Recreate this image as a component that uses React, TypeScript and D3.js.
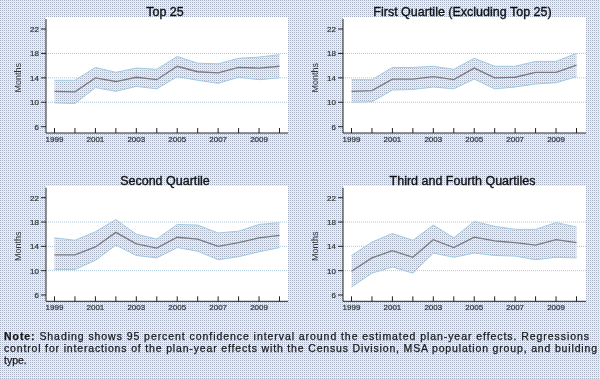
import React, { useEffect } from "react";
import * as d3 from "d3";

const years = [1999, 2000, 2001, 2002, 2003, 2004, 2005, 2006, 2007, 2008, 2009, 2010];
const yTicks = [6, 10, 14, 18, 22];
const gridTicks = [10, 14, 18];
const xLabelYears = [1999, 2001, 2003, 2005, 2007, 2009];

const titles = ["Top 25", "First Quartile (Excluding Top 25)", "Second Quartile", "Third and Fourth Quartiles"];

const top25Mid = [11.8, 11.7, 14.0, 13.4, 14.1, 13.7, 15.9, 15.0, 14.8, 15.7, 15.6, 15.9];
const top25Hi = [13.6, 13.6, 15.7, 14.9, 15.6, 15.4, 17.5, 16.4, 16.3, 17.2, 17.4, 17.8];
const top25Lo = [9.9, 9.8, 12.4, 11.8, 12.6, 12.2, 14.2, 13.6, 13.1, 14.1, 13.7, 14.0];

const q1Mid = [11.8, 11.9, 13.8, 13.8, 14.2, 13.7, 15.6, 14.0, 14.1, 14.9, 14.9, 16.1];
const q1Hi = [13.7, 13.7, 15.7, 15.7, 15.9, 15.4, 17.2, 15.9, 15.9, 16.7, 16.7, 18.0];
const q1Lo = [10.0, 10.1, 12.0, 12.1, 12.5, 12.2, 13.8, 12.2, 12.5, 13.0, 13.2, 14.2];

const q2Mid = [12.6, 12.6, 13.9, 16.3, 14.4, 13.7, 15.5, 15.2, 14.0, 14.6, 15.4, 15.8];
const q2Hi = [15.4, 15.0, 16.4, 18.4, 16.0, 15.2, 17.6, 17.5, 16.2, 16.5, 17.6, 17.9];
const q2Lo = [10.2, 10.2, 11.7, 14.2, 12.5, 12.1, 13.8, 13.2, 11.8, 12.3, 13.1, 13.8];

const q34Mid = [9.9, 12.1, 13.3, 12.2, 15.1, 13.8, 15.5, 14.9, 14.6, 14.2, 15.1, 14.6];
const q34Hi = [12.5, 14.7, 16.1, 15.0, 17.5, 15.4, 18.1, 17.3, 16.8, 16.8, 17.9, 17.2];
const q34Lo = [7.3, 9.6, 10.6, 9.6, 12.9, 12.2, 12.9, 12.5, 12.4, 11.8, 12.2, 12.1];

const panelMid = [top25Mid, q1Mid, q2Mid, q34Mid];
const panelHi = [top25Hi, q1Hi, q2Hi, q34Hi];
const panelLo = [top25Lo, q1Lo, q2Lo, q34Lo];

const noteLine1 = "Shading shows 95 percent confidence interval around the estimated plan-year effects.  Regressions";
const noteLine2 = "control for interactions of the plan-year effects with the Census Division, MSA population group, and building";
const noteLine3 = "type.";

const FONT = "'Liberation Sans', Arial, sans-serif";

function Panel({ idx, axisX, rightX, top22, bottom6 }: { idx: number; axisX: number; rightX: number; top22: number; bottom6: number }) {
  const x = d3.scaleLinear().domain([1999, 2010]).range([axisX + 8.5, axisX + 233.5]);
  const y = d3.scaleLinear().domain([6, 22]).range([bottom6, top22]);
  const axisY = bottom6 + 6.3;
  const whiteTop = top22 - 12;
  const mid = panelMid[idx];
  const hi = panelHi[idx];
  const lo = panelLo[idx];
  const area = d3
    .area<number>()
    .x((_, i) => x(years[i]))
    .y0((_, i) => y(lo[i]))
    .y1((_, i) => y(hi[i]));
  const line = d3
    .line<number>()
    .x((_, i) => x(years[i]))
    .y((d) => y(d));
  return (
    <g>
      <rect x={axisX} y={whiteTop} width={rightX - axisX} height={axisY - whiteTop} fill="#ffffff" />
      <text x={(axisX + rightX) / 2 - 2} y={whiteTop - 1} textAnchor="middle" fontFamily={FONT} fontSize={12.5} fill="#111" stroke="#111" strokeWidth={0.35}>
        {titles[idx]}
      </text>
      {gridTicks.map((t) => (
        <line key={t} x1={axisX} x2={rightX} y1={y(t)} y2={y(t)} stroke="#a9c6d8" strokeWidth={1} strokeDasharray="1,1" />
      ))}
      <path d={area(mid) || ""} fill="url(#bandPat)" stroke="none" />
      <path d={line(hi) || ""} fill="none" stroke="#9fcbe6" strokeWidth={1} />
      <path d={line(lo) || ""} fill="none" stroke="#9fcbe6" strokeWidth={1} />
      <path d={line(mid) || ""} fill="none" stroke="#7a7a80" strokeWidth={1.3} />
      <line x1={axisX} x2={axisX} y1={whiteTop + 2} y2={axisY} stroke="#222" strokeWidth={1} />
      <line x1={axisX} x2={rightX} y1={axisY} y2={axisY} stroke="#222" strokeWidth={1} />
      {yTicks.map((t) => (
        <g key={t}>
          <line x1={axisX - 5} x2={axisX} y1={y(t)} y2={y(t)} stroke="#222" strokeWidth={1} />
          <text x={axisX - 7} y={y(t) + 3} textAnchor="end" fontFamily={FONT} fontSize={8} fill="#333" stroke="#333" strokeWidth={0.2}>
            {t}
          </text>
        </g>
      ))}
      {years.map((yr) => (
        <line key={yr} x1={x(yr)} x2={x(yr)} y1={axisY - 5} y2={axisY} stroke="#222" strokeWidth={1} />
      ))}
      {xLabelYears.map((yr) => (
        <text key={yr} x={x(yr)} y={axisY + 9} textAnchor="middle" fontFamily={FONT} fontSize={8} fill="#333" stroke="#333" strokeWidth={0.2}>
          {yr}
        </text>
      ))}
      <text
        transform={`translate(${axisX - 25},${(top22 + bottom6) / 2}) rotate(-90)`}
        textAnchor="middle"
        fontFamily={FONT}
        fontSize={9}
        fill="#333"
      >
        Months
      </text>
    </g>
  );
}

export default function App() {
  useEffect(() => {
    document.body.style.margin = "0";
  }, []);
  return (
    <svg width={600} height={379} style={{ display: "block", position: "fixed", left: 0, top: 0 }}>
      <defs>
        <pattern id="bgPat" width={2} height={2} patternUnits="userSpaceOnUse">
          <rect width={2} height={2} fill="#eef1f5" />
          <rect x={0} y={0} width={1} height={1} fill="#a6b0c2" />
          <rect x={1} y={1} width={1} height={1} fill="#dbe3ea" />
        </pattern>
        <pattern id="bandPat" width={2} height={2} patternUnits="userSpaceOnUse">
          <rect width={2} height={2} fill="#eceff3" />
          <rect x={0} y={0} width={1} height={1} fill="#a9b2c2" />
          <rect x={1} y={1} width={1} height={1} fill="#d2e2ec" />
        </pattern>
      </defs>
      <rect width={600} height={379} fill="url(#bgPat)" />
      <Panel idx={0} axisX={46} rightX={288} top22={29} bottom6={126.7} />
      <Panel idx={1} axisX={343} rightX={586} top22={29} bottom6={126.7} />
      <Panel idx={2} axisX={46} rightX={288} top22={197.7} bottom6={295} />
      <Panel idx={3} axisX={343} rightX={586} top22={197.7} bottom6={295} />
      <g stroke="#1a1a1a" strokeWidth={0.25}>
        <text x={4} y={340} fontFamily={FONT} fontSize={10.5} fill="#1a1a1a" textLength={585} lengthAdjust="spacing">
          <tspan fontWeight="bold">Note:</tspan> {noteLine1}
        </text>
        <text x={4} y={352} fontFamily={FONT} fontSize={10.5} fill="#1a1a1a" textLength={593} lengthAdjust="spacing">
          {noteLine2}
        </text>
        <text x={4} y={364} fontFamily={FONT} fontSize={10.5} fill="#1a1a1a">
          {noteLine3}
        </text>
      </g>
    </svg>
  );
}
